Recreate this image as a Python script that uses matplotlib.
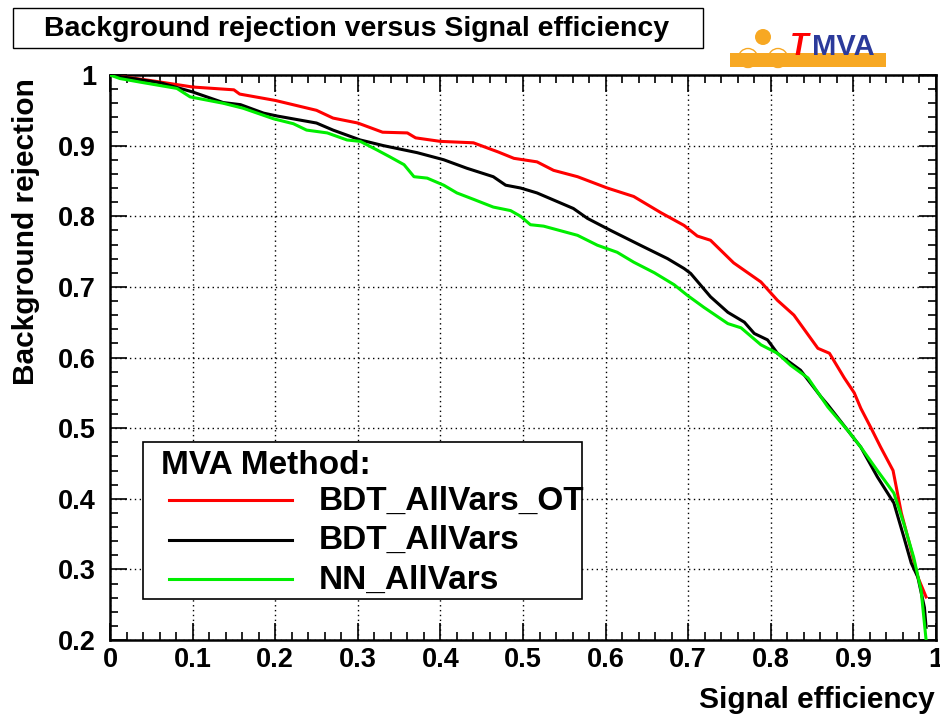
import matplotlib
matplotlib.use("Agg")
import matplotlib.pyplot as plt
from matplotlib.patches import Rectangle, Circle
from matplotlib.lines import Line2D
import numpy as np

plt.rcParams['font.family'] = ['Liberation Sans', 'DejaVu Sans']

# Data (signal efficiency, background rejection)
bdt_ot_x = [0.0, 0.05, 0.1, 0.15, 0.157, 0.2, 0.25, 0.27, 0.3, 0.33, 0.36, 0.37, 0.4, 0.44,
            0.47, 0.489, 0.517, 0.537, 0.566, 0.602, 0.634, 0.667, 0.695, 0.711, 0.727,
            0.755, 0.788, 0.808, 0.828, 0.857, 0.871, 0.889, 0.901, 0.909, 0.921, 0.933,
            0.948, 0.958, 0.97, 0.978, 0.988]
bdt_ot_y = [1.0, 0.992, 0.983, 0.979, 0.973, 0.964, 0.95, 0.939, 0.932, 0.919, 0.918, 0.911,
            0.906, 0.904, 0.891, 0.882, 0.877, 0.865, 0.856, 0.84, 0.828, 0.805, 0.787,
            0.772, 0.766, 0.734, 0.707, 0.681, 0.66, 0.613, 0.606, 0.571, 0.55, 0.528,
            0.501, 0.473, 0.44, 0.38, 0.327, 0.289, 0.261]

bdt_x = [0.0, 0.061, 0.1, 0.137, 0.158, 0.186, 0.202, 0.25, 0.27, 0.303, 0.331, 0.372,
         0.404, 0.432, 0.464, 0.479, 0.497, 0.517, 0.561, 0.578, 0.606, 0.642, 0.675,
         0.695, 0.703, 0.727, 0.748, 0.768, 0.78, 0.796, 0.808, 0.836, 0.861, 0.869,
         0.893, 0.909, 0.929, 0.949, 0.961, 0.97, 0.978, 0.986, 0.988]
bdt_y = [1.0, 0.989, 0.976, 0.961, 0.958, 0.946, 0.942, 0.932, 0.922, 0.908, 0.9, 0.89,
         0.88, 0.868, 0.856, 0.844, 0.84, 0.833, 0.811, 0.797, 0.78, 0.759, 0.74,
         0.726, 0.719, 0.686, 0.664, 0.65, 0.634, 0.625, 0.606, 0.582, 0.544, 0.533,
         0.497, 0.473, 0.431, 0.394, 0.346, 0.309, 0.289, 0.246, 0.218]

nn_x = [0.0, 0.012, 0.036, 0.081, 0.097, 0.137, 0.161, 0.198, 0.222, 0.238, 0.263, 0.287,
        0.303, 0.323, 0.339, 0.356, 0.368, 0.384, 0.404, 0.42, 0.44, 0.464, 0.485, 0.497,
        0.509, 0.525, 0.566, 0.59, 0.614, 0.634, 0.659, 0.683, 0.699, 0.719, 0.748,
        0.764, 0.788, 0.808, 0.824, 0.845, 0.869, 0.893, 0.909, 0.929, 0.949, 0.961,
        0.973, 0.982, 0.988]
nn_y = [1.0, 0.995, 0.99, 0.981, 0.969, 0.96, 0.953, 0.938, 0.931, 0.922, 0.918, 0.908,
        0.906, 0.894, 0.884, 0.873, 0.856, 0.854, 0.844, 0.833, 0.824, 0.813, 0.808, 0.8,
        0.788, 0.786, 0.773, 0.759, 0.749, 0.735, 0.72, 0.703, 0.688, 0.671, 0.648,
        0.642, 0.618, 0.606, 0.589, 0.571, 0.53, 0.497, 0.473, 0.44, 0.408, 0.365,
        0.317, 0.27, 0.2]

labels = ["BDT_AllVars_OT", "BDT_AllVars", "NN_AllVars"]
colors = ["#ff0000", "#000000", "#00ee00"]
xticks = [0, 0.1, 0.2, 0.3, 0.4, 0.5, 0.6, 0.7, 0.8, 0.9, 1]
yticks = [0.2, 0.3, 0.4, 0.5, 0.6, 0.7, 0.8, 0.9, 1]

W, H = 940, 718
fig = plt.figure(figsize=(W / 100, H / 100), dpi=100)

def fx(px):
    return px / W

def fy(py):
    return 1 - py / H

ax = fig.add_axes([fx(110), fy(640), fx(936) - fx(110), fy(75) - fy(640)])
ax.set_xlim(0, 1)
ax.set_ylim(0.2, 1)

series = [(bdt_ot_x, bdt_ot_y), (bdt_x, bdt_y), (nn_x, nn_y)]
for (xs, ys), c in zip(series, colors):
    ax.plot(xs, ys, color=c, lw=2.2, zorder=3, solid_joinstyle='round')

ax.set_xticks(xticks)
ax.set_xticklabels(["0" if t == 0 else ("1" if t == 1 else f"{t:.1f}") for t in xticks])
ax.set_yticks(yticks)
ax.set_yticklabels(["1" if t == 1 else f"{t:.1f}" for t in yticks])
ax.set_xticks(np.arange(0, 1.0001, 0.02), minor=True)
ax.set_yticks(np.arange(0.2, 1.0001, 0.02), minor=True)
ax.tick_params(which='both', direction='in', top=True, right=True, width=1.2)
ax.tick_params(which='major', length=12, labelsize=19.5)
ax.tick_params(axis='x', which='major', pad=5)
ax.tick_params(axis='y', which='major', pad=10)
ax.tick_params(which='minor', length=6)
for lab in ax.get_xticklabels() + ax.get_yticklabels():
    lab.set_fontweight('bold')
ax.grid(True, which='major', color='black', linestyle=(0, (1, 2.5)), lw=1.0)
for s in ax.spines.values():
    s.set_linewidth(1.8)

# axis titles
fig.text(fx(935), fy(700), "Signal efficiency", ha='right', va='center',
         fontsize=21.5, fontweight='bold')
fig.text(fx(26), fy(232), "Background rejection", ha='center', va='center',
         rotation=90, fontsize=21.5, fontweight='bold')

# title box
fig.patches.append(Rectangle((fx(13), fy(48)), fx(703) - fx(13), fy(8) - fy(48),
                             transform=fig.transFigure, fill=True, facecolor='white',
                             edgecolor='black', lw=1.0))
fig.text(fx(357), fy(29), "Background rejection versus Signal efficiency", ha='center',
         va='center', fontsize=20.5, fontweight='bold')

# legend box
ax_leg_rect = Rectangle((fx(143), fy(599)), fx(582) - fx(143), fy(442) - fy(599),
                        transform=fig.transFigure, facecolor='white', edgecolor='black',
                        lw=1.2, zorder=10)
fig.patches.append(ax_leg_rect)
fig.text(fx(161), fy(466), "MVA Method:", ha='left', va='center', fontsize=24,
         fontweight='bold', zorder=11)
for i, (lab, c) in enumerate(zip(labels, colors)):
    yy = 500 + i * 39.5
    fig.lines.append(Line2D([fx(169), fx(292)], [fy(yy), fy(yy)], color=c, lw=2.2,
                            transform=fig.transFigure, zorder=11))
    fig.text(fx(319), fy(yy + 1), lab, ha='left', va='center', fontsize=24,
             fontweight='bold', zorder=11)

# TMVA logo
orange = '#f7a823'
fig.patches.append(Rectangle((fx(730), fy(67)), fx(886) - fx(730), fy(53) - fy(67),
                             transform=fig.transFigure, facecolor=orange,
                             edgecolor='none'))
logo_ax = fig.add_axes([fx(730), fy(75), fx(800) - fx(730), fy(25) - fy(75)])
logo_ax.set_xlim(730, 800)
logo_ax.set_ylim(75, 25)
logo_ax.set_aspect('equal')
logo_ax.axis('off')
logo_ax.add_patch(Circle((763, 37), 8, facecolor=orange, edgecolor='none'))
logo_ax.add_patch(Circle((748, 58), 9.5, facecolor='white', edgecolor=orange, lw=1.0))
logo_ax.add_patch(Circle((778, 58), 9.5, facecolor='white', edgecolor=orange, lw=1.0))
fig.text(fx(790), fy(47), "T", color='#ff0000', fontsize=22, fontweight='bold',
         fontstyle='italic', ha='left', va='center')
fig.text(fx(812), fy(47), "MVA", color='#2b3a9b', fontsize=21, fontweight='bold',
         ha='left', va='center')

fig.savefig("out.png", dpi=100)
